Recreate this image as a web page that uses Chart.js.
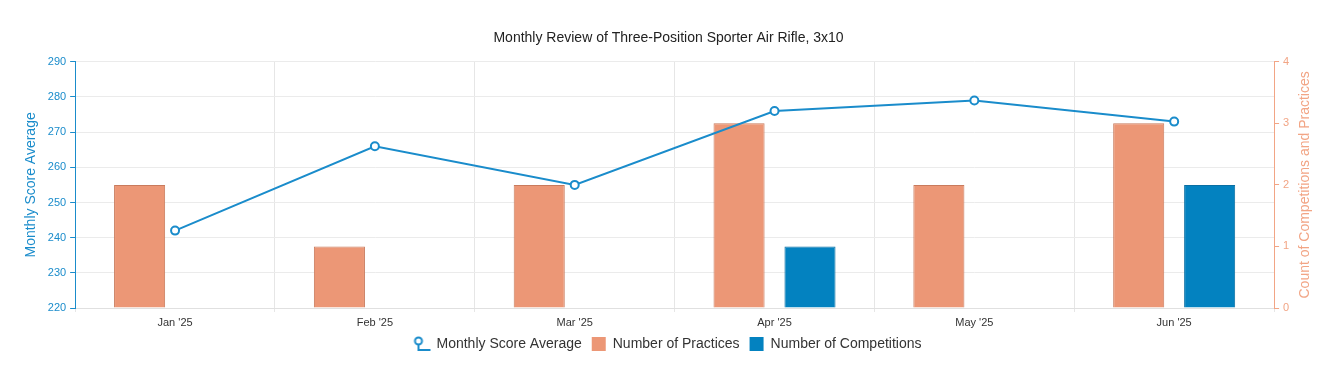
<!DOCTYPE html>
<html>
<head>
<meta charset="utf-8">
<script src="https://cdn.jsdelivr.net/npm/chart.js@4"></script>
<style>
  html, body { margin: 0; padding: 0; background: #fff; }
  #wrap { width: 1332px; height: 365px; }
</style>
</head>
<body>
<div id="wrap"><canvas id="myChart"></canvas></div>
<script>
const months = ["Jan '25", "Feb '25", "Mar '25", "Apr '25", "May '25", "Jun '25"];
const scoreAverage = [242, 266, 255, 276, 279, 273];
const practices = [2, 1, 2, 3, 2, 3];
const competitions = [0, 0, 0, 1, 0, 2];

const blue = '#1a8ccb';
const orange = '#f2a585';
const rightTitle = 'Count of Competitions and Practices';

// little legend icon for the line series
function lineIcon() {
    var c = document.createElement('canvas');
    c.width = 20; c.height = 16;
    var g = c.getContext('2d');
    g.strokeStyle = blue;
    g.lineWidth = 2;
    g.beginPath();
    g.arc(6, 5, 3.5, 0, Math.PI * 2);
    g.fillStyle = '#fff';
    g.fill();
    g.stroke();
    g.beginPath();
    g.moveTo(6, 8.5);
    g.lineTo(6, 14);
    g.lineTo(18, 14);
    g.stroke();
    return c;
}
const icon = lineIcon();

// right axis title reads bottom-to-top like the left one
const rightTitlePlugin = {
    id: 'rightTitle',
    afterDraw(chart) {
        var s = chart.scales.y1;
        var ctx = chart.ctx;
        ctx.save();
        ctx.translate(s.right - 13, (s.top + s.bottom) / 2);
        ctx.rotate(-Math.PI / 2);
        ctx.fillStyle = orange;
        ctx.font = "14px 'Liberation Sans', Arial, sans-serif";
        ctx.textAlign = 'center';
        ctx.textBaseline = 'middle';
        ctx.fillText(rightTitle, 0, 0);
        ctx.restore();
    }
};

Chart.defaults.font.family = "'Liberation Sans', Arial, sans-serif";
Chart.defaults.color = '#333';

const data = {
    labels: months,
    datasets: [
      {
        type: 'line',
        label: 'Monthly Score Average',
        data: scoreAverage,
        yAxisID: 'y',
        borderColor: blue,
        backgroundColor: '#fff',
        borderWidth: 2,
        pointRadius: 4,
        pointBorderWidth: 2,
        pointBackgroundColor: '#fff',
        pointBorderColor: blue,
        tension: 0,
        order: 0
      },
      {
        label: 'Number of Practices',
        data: practices,
        yAxisID: 'y1',
        backgroundColor: '#ec9776',
        borderColor: '#c97b5d',
        borderWidth: 1,
        categoryPercentage: 0.71,
        barPercentage: 0.72,
        order: 1
      },
      {
        label: 'Number of Competitions',
        data: competitions,
        yAxisID: 'y1',
        backgroundColor: '#0382c0',
        borderColor: '#0a6fa3',
        borderWidth: 1,
        categoryPercentage: 0.71,
        barPercentage: 0.72,
        order: 1
      }
    ]
};

const config = {
    type: 'bar',
    data: data,
    plugins: [rightTitlePlugin],
    options: {
      animation: false,
      responsive: true,
      maintainAspectRatio: false,
      layout: {
        padding: { left: 19, right: 14, top: 8, bottom: 4 }
      },
      plugins: {
        title: {
          display: true,
          text: 'Monthly Review of Three-Position Sporter Air Rifle, 3x10',
          color: '#222',
          font: { size: 14, weight: 'normal' },
          padding: { top: 22, bottom: 15 }
        },
        legend: {
          position: 'bottom',
          labels: {
            color: '#333',
            font: { size: 14 },
            boxWidth: 14,
            boxHeight: 14,
            padding: 10,
            generateLabels: function(chart) {
              var items = Chart.defaults.plugins.legend.labels.generateLabels(chart);
              items.forEach(function(it, i) {
                if (i === 0) {
                  it.pointStyle = icon;
                } else {
                  it.pointStyle = 'rect';
                  it.strokeStyle = it.fillStyle;
                  it.lineWidth = 0;
                }
              });
              return items;
            },
            usePointStyle: true
          }
        },
        tooltip: { enabled: false }
      },
      scales: {
        x: {
            grid: {
                color: '#e6e6e6',
                offset: true,
                tickLength: 4
            },
            border: { color: '#e0e0e0' },
            ticks: {
                color: '#333',
                font: { size: 11 },
                padding: 4
            },
            afterFit: function(scale) {
                scale.height = 19;
                // axis box is squeezed, so don't clip the labels to it
                scale._computeLabelArea = function() { return undefined; };
            }
        },
        y: {
            type: 'linear',
            position: 'left',
            min: 220,
            max: 290,
            ticks: {
                stepSize: 10,
                color: blue,
                font: { size: 11 },
                padding: 4
            },
            grid: {
                color: '#ebebeb',
                tickLength: 5,
                tickColor: blue
            },
            border: { color: blue, width: 1 },
            title: {
                display: true,
                text: 'Monthly Score Average',
                color: blue,
                font: { size: 14 },
                padding: 4
            }
        },
        y1: {
            type: 'linear',
            position: 'right',
            min: 0,
            max: 4,
            ticks: {
                stepSize: 1,
                color: orange,
                font: { size: 11 },
                padding: 4
            },
            grid: {
                drawOnChartArea: false,
                tickLength: 5,
                tickColor: orange
            },
            border: { color: orange, width: 1 },
            title: {
                display: true,
                text: rightTitle,
                color: 'rgba(0,0,0,0)',
                font: { size: 14 },
                padding: 4
            }
        }
      }
    },
};

var myChart;

function initChart() {
    var ctx = document.getElementById('myChart').getContext('2d');
    myChart = new Chart(ctx, config);
}

window.addEventListener('load', _ => {
    if (!myChart) {
        initChart();
    }
});
</script>
</body>
</html>
